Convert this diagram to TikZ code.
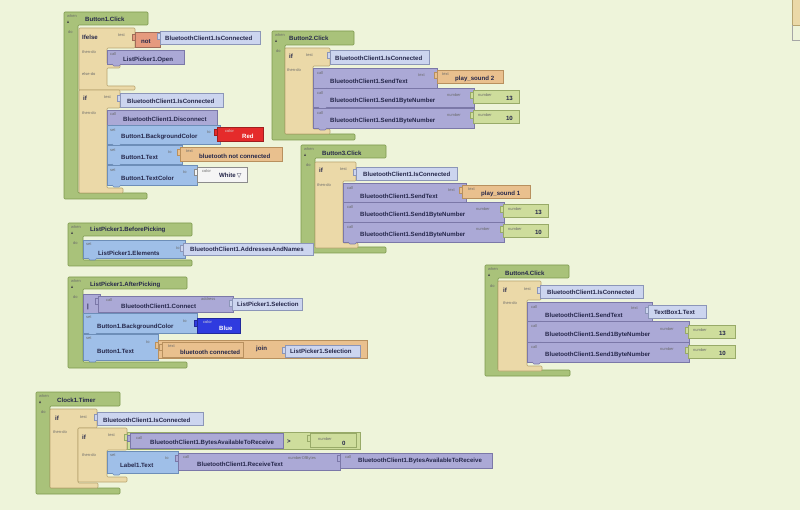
\documentclass[tikz,border=0pt]{standalone}
\usepackage{fontspec}
\setmainfont{Liberation Sans}
\newfontfamily\symfont{DejaVu Sans}
\definecolor{bg}{HTML}{EEF4DA}
\definecolor{evfill}{HTML}{A9C27A}
\definecolor{evline}{HTML}{7E9A4E}
\definecolor{ctfill}{HTML}{EBD9A8}
\definecolor{ctline}{HTML}{B8A570}
\definecolor{cafill}{HTML}{ABA9D6}
\definecolor{caline}{HTML}{7B78A8}
\definecolor{gefill}{HTML}{CCD5EF}
\definecolor{geline}{HTML}{8C96B8}
\definecolor{sefill}{HTML}{9FBFE8}
\definecolor{seline}{HTML}{6D8EB8}
\definecolor{txfill}{HTML}{E9C08E}
\definecolor{txline}{HTML}{B8905E}
\definecolor{nufill}{HTML}{CEDD9C}
\definecolor{nuline}{HTML}{98AA68}
\definecolor{notfill}{HTML}{E59A7E}
\definecolor{redfill}{HTML}{E52B2B}
\definecolor{bluefill}{HTML}{2F3BDF}
\definecolor{txt}{HTML}{25274A}
\definecolor{tinyc}{HTML}{6A6A6A}
\tikzset{
  evt/.style={fill=evfill,draw=evline,line width=0.6pt,rounded corners=1pt},
  ctl/.style={fill=ctfill,draw=ctline,line width=0.6pt,rounded corners=1pt},
  callb/.style={fill=cafill,draw=caline,line width=0.6pt},
  getb/.style={fill=gefill,draw=geline,line width=0.6pt},
  setb/.style={fill=sefill,draw=seline,line width=0.6pt},
  textb/.style={fill=txfill,draw=txline,line width=0.6pt},
  numb/.style={fill=nufill,draw=nuline,line width=0.6pt},
  notb/.style={fill=notfill,draw=notfill!70!black,line width=0.6pt},
  redb/.style={fill=redfill,draw=redfill!70!black,line width=0.6pt},
  blueb/.style={fill=bluefill,draw=bluefill!70!black,line width=0.6pt},
  whiteb/.style={fill=white!96!black,draw=black!45,line width=0.6pt},
  lbl/.style={anchor=west,inner sep=0pt,font=\fontsize{6.1}{7}\selectfont\bfseries,text=txt},
  wlbl/.style={lbl,text=white},
  tiny/.style={anchor=west,inner sep=0pt,font=\fontsize{4}{4.5}\selectfont,text=tinyc},
  wtiny/.style={tiny,text=white!85!black}
}
% value block with plug on the left
\newcommand\val[5]{\filldraw[#5] (#1,#2) rectangle (#3,#4);
  \filldraw[#5] (#1,{#2+2}) -- ({#1-3},{#2+2}) -- ({#1-3},{#2+8}) -- (#1,{#2+8});}
% statement block with tab below
\newcommand\stm[5]{\filldraw[#5] (#1,#2) rectangle (#3,#4);
  \filldraw[#5] ({#1+5},#4) -- ({#1+7},{#4+2}) -- ({#1+12},{#4+2}) -- ({#1+14},#4);}
% event block
\newcommand\evshape[7]{\filldraw[evt] (#1,#2) -- (#3,#2) -- (#3,#4) -- (#5,#4) -- (#5,{#6-6}) -- (#7,{#6-6}) -- (#7,#6) -- (#1,#6) -- cycle;
  \fill[black!70] ({#1+3},{#2+11}) -- ({#1+5},{#2+11}) -- ({#1+4},{#2+8.5}) -- cycle;}
% if block
\newcommand\ifshape[7]{\filldraw[ctl] (#1,#2) -- (#3,#2) -- (#3,#4) -- (#5,#4) -- (#5,{#6-5}) -- (#7,{#6-5}) -- (#7,#6) -- (#1,#6) -- cycle;}
\newcommand\lab[4]{\node[lbl] (#1) at (#2,#3) {#4};}
\newcommand\tin[4]{\node[tiny] (#1) at (#2,#3) {#4};}
\begin{document}
\begin{tikzpicture}[x=1pt,y=-1pt]
\fill[bg] (0,0) rectangle (800,510);
\useasboundingbox (0,0) rectangle (800,510);

% partial block at right edge
\filldraw[ctl,rounded corners=0pt] (792,-2) rectangle (802,25);
\draw[black!35,line width=0.6pt] (792,25) -- (792,40) -- (802,40);

% ================= Button1.Click
\evshape{64}{12}{148}{25}{78}{199}{147}
\tin{b1w}{67}{16}{when}
\lab{b1n}{85}{19}{Button1.Click}
\tin{b1d}{68}{32}{do}
% ifelse
\filldraw[ctl] (79,28) -- (135,28) -- (135,48) -- (107,48) -- (107,64) -- (120,64) -- (120,68) -- (107,68) -- (107,86) -- (135,86) -- (135,90) -- (79,90) -- cycle;
\lab{b1ie}{82}{37}{Ifelse}
\tin{b1it}{118}{35}{test}
\tin{b1itd}{82}{52}{then-do}
\tin{b1ied}{82}{74}{else-do}
\val{135}{32}{160}{47}{notb}
\lab{b1not}{141}{42}{not}
\val{160}{31}{260}{44}{getb}
\lab{b1g1}{165}{38}{BluetoothClient1.IsConnected}
\stm{107}{50}{184}{64}{callb}
\tin{b1c1}{110}{54}{call}
\lab{b1o}{123}{59.5}{ListPicker1.Open}
% if
\ifshape{79}{90}{120}{108}{107}{193}{123}
\lab{b1if}{83}{98}{if}
\tin{b1ift}{104}{97}{test}
\tin{b1iftd}{82}{113}{then-do}
\val{120}{93}{223}{107}{getb}
\lab{b1g2}{127}{101}{BluetoothClient1.IsConnected}
\stm{107}{110}{217}{125}{callb}
\tin{b1c2}{110}{114}{call}
\lab{b1dis}{123}{119}{BluetoothClient1.Disconnect}
\stm{107}{125}{220}{144}{setb}
\tin{b1s1}{110}{130}{set}
\lab{b1bg}{121}{137}{Button1.BackgroundColor}
\tin{b1to1}{207}{132}{to}
\val{217}{127}{263}{141}{redb}
\node[wtiny] (b1col1) at (225,131) {color};
\node[wlbl] (b1red) at (242,136) {Red};
\stm{107}{145}{182}{164}{setb}
\tin{b1s2}{110}{150}{set}
\lab{b1bt}{121}{157}{Button1.Text}
\tin{b1to2}{168}{152}{to}
\val{180}{147}{282}{161}{textb}
\tin{b1tx}{186}{151}{text}
\lab{b1nc}{199}{156}{bluetooth not connected}
\stm{107}{165}{197}{185}{setb}
\tin{b1s3}{110}{170}{set}
\lab{b1tc}{121}{178}{Button1.TextColor}
\tin{b1to3}{183}{172}{to}
\val{197}{167}{247}{182}{whiteb}
\tin{b1col2}{202}{171}{color}
\node[lbl] (b1wh) at (219,176) {White\,{\symfont\fontsize{6}{7}\selectfont ▽}};

% ================= Button2.Click
\evshape{272}{31}{354}{45}{285}{140}{355}
\tin{b2w}{275}{35}{when}
\lab{b2n}{289}{38}{Button2.Click}
\tin{b2d}{276}{51}{do}
\ifshape{285}{48}{330}{66}{313}{134}{330}
\lab{b2if}{289}{56}{if}
\tin{b2t}{306}{55}{test}
\tin{b2td}{287}{70}{then-do}
\val{330}{50}{429}{64}{getb}
\lab{b2g}{335}{58}{BluetoothClient1.IsConnected}
\stm{313}{68}{437}{88}{callb}
\tin{b2c1}{317}{73}{call}
\lab{b2st}{330}{81}{BluetoothClient1.SendText}
\tin{b2tt}{418}{75}{text}
\val{437}{70}{503}{83}{textb}
\tin{b2tx}{442}{74}{text}
\lab{b2ps}{455}{79}{play\_sound 2}
\stm{313}{88}{474}{107}{callb}
\tin{b2c2}{317}{93}{call}
\lab{b2sn1}{330}{101}{BluetoothClient1.Send1ByteNumber}
\tin{b2nt1}{447}{95}{number}
\val{473}{90}{519}{103}{numb}
\tin{b2nl1}{478}{95}{number}
\node[lbl,anchor=east] (b2v1) at (513,98) {13};
\stm{313}{108}{474}{128}{callb}
\tin{b2c3}{317}{113}{call}
\lab{b2sn2}{330}{121}{BluetoothClient1.Send1ByteNumber}
\tin{b2nt2}{447}{115}{number}
\val{473}{110}{519}{123}{numb}
\tin{b2nl2}{478}{115}{number}
\node[lbl,anchor=east] (b2v2) at (513,118) {10};

% ================= Button3.Click
\evshape{301}{145}{386}{158}{315}{253}{386}
\tin{b3w}{304}{149}{when}
\lab{b3n}{322}{153}{Button3.Click}
\tin{b3d}{306}{165}{do}
\ifshape{315}{162}{356}{181}{343}{248}{358}
\lab{b3if}{319}{170}{if}
\tin{b3t}{340}{169}{test}
\tin{b3td}{317}{185}{then-do}
\val{356}{167}{457}{180}{getb}
\lab{b3g}{363}{174}{BluetoothClient1.IsConnected}
\stm{343}{183}{466}{202}{callb}
\tin{b3c1}{347}{188}{call}
\lab{b3st}{360}{196}{BluetoothClient1.SendText}
\tin{b3tt}{448}{190}{text}
\val{462}{185}{530}{198}{textb}
\tin{b3tx}{468}{189}{text}
\lab{b3ps}{481}{194}{play\_sound 1}
\stm{343}{202}{504}{222}{callb}
\tin{b3c2}{347}{207}{call}
\lab{b3sn1}{360}{215}{BluetoothClient1.Send1ByteNumber}
\tin{b3nt1}{476}{209}{number}
\val{503}{204}{548}{217}{numb}
\tin{b3nl1}{508}{209}{number}
\node[lbl,anchor=east] (b3v1) at (542,212) {13};
\stm{343}{222}{504}{242}{callb}
\tin{b3c3}{347}{227}{call}
\lab{b3sn2}{360}{235}{BluetoothClient1.Send1ByteNumber}
\tin{b3nt2}{476}{229}{number}
\val{503}{224}{548}{237}{numb}
\tin{b3nl2}{508}{229}{number}
\node[lbl,anchor=east] (b3v2) at (542,232) {10};

% ================= ListPicker1.BeforePicking
\evshape{68}{223}{192}{236}{83}{266}{192}
\tin{lbw}{71}{227}{when}
\lab{lbn}{90}{230}{ListPicker1.BeforePicking}
\tin{lbd}{73}{243}{do}
\stm{83}{240}{185}{258}{setb}
\tin{lbs}{86}{244}{set}
\lab{lbe}{98}{253}{ListPicker1.Elements}
\tin{lbto}{176}{248}{to}
\val{183}{243}{313}{255}{getb}
\lab{lbg}{190}{249}{BluetoothClient1.AddressesAndNames}

% ================= ListPicker1.AfterPicking
\evshape{68}{277}{187}{289}{83}{368}{187}
\tin{law}{71}{281}{when}
\lab{lan}{90}{285}{ListPicker1.AfterPicking}
\tin{lad}{73}{297}{do}
\stm{83}{294}{100}{313}{callb}
\lab{labar}{87}{307}{|}
\val{98}{296}{233}{312}{callb}
\tin{lac}{106}{300}{call}
\lab{lacn}{121}{306}{BluetoothClient1.Connect}
\tin{laad}{201}{299}{address}
\val{232}{298}{302}{310}{getb}
\lab{las1}{237}{304}{ListPicker1.Selection}
\stm{83}{313}{197}{333}{setb}
\tin{las}{86}{317}{set}
\lab{labg}{97}{327}{Button1.BackgroundColor}
\tin{lato1}{183}{321}{to}
\val{197}{318}{240}{333}{blueb}
\node[wtiny] (lacol) at (203,322) {color};
\node[wlbl] (lablue) at (219,328) {Blue};
\stm{83}{334}{158}{360}{setb}
\tin{las2}{86}{338}{set}
\lab{labt}{97}{351}{Button1.Text}
\tin{lato2}{146}{342}{to}
\val{158}{340}{367}{358}{textb}
\val{162}{342}{243}{357}{textb}
\tin{latx}{168}{346}{text}
\lab{lacon}{180}{352}{bluetooth connected}
\lab{lajoin}{256}{349}{join}
\val{285}{345}{360}{357}{getb}
\lab{las2g}{290}{351}{ListPicker1.Selection}

% ================= Button4.Click
\evshape{485}{265}{569}{278}{498}{376}{570}
\tin{b4w}{488}{269}{when}
\lab{b4n}{505}{273}{Button4.Click}
\tin{b4d}{490}{286}{do}
\ifshape{498}{281}{541}{300}{527}{371}{542}
\lab{b4if}{503}{290}{if}
\tin{b4t}{524}{289}{test}
\tin{b4td}{503}{303}{then-do}
\val{540}{285}{643}{298}{getb}
\lab{b4g}{547}{292}{BluetoothClient1.IsConnected}
\stm{527}{302}{652}{321}{callb}
\tin{b4c1}{531}{307}{call}
\lab{b4st}{545}{315}{BluetoothClient1.SendText}
\tin{b4tt}{631}{308}{text}
\val{648}{305}{706}{318}{getb}
\lab{b4tb}{654}{312}{TextBox1.Text}
\stm{527}{321}{689}{342}{callb}
\tin{b4c2}{531}{326}{call}
\lab{b4sn1}{545}{335}{BluetoothClient1.Send1ByteNumber}
\tin{b4nt1}{660}{329}{number}
\val{688}{325}{735}{338}{numb}
\tin{b4nl1}{693}{330}{number}
\node[lbl,anchor=east] (b4v1) at (726,333) {13};
\stm{527}{342}{689}{362}{callb}
\tin{b4c3}{531}{347}{call}
\lab{b4sn2}{545}{355}{BluetoothClient1.Send1ByteNumber}
\tin{b4nt2}{660}{349}{number}
\val{688}{345}{735}{358}{numb}
\tin{b4nl2}{693}{350}{number}
\node[lbl,anchor=east] (b4v2) at (726,353) {10};

% ================= Clock1.Timer
\evshape{36}{392}{120}{406}{50}{494}{120}
\tin{ctw}{39}{396}{when}
\lab{ctn}{57}{400}{Clock1.Timer}
\tin{ctd}{41}{412}{do}
\ifshape{50}{409}{97}{428}{78}{488}{98}
\lab{ctif}{55}{418}{if}
\tin{ctt}{80}{417}{test}
\tin{cttd}{53}{432}{then-do}
\val{97}{412}{203}{425}{getb}
\lab{ctg}{103}{420}{BluetoothClient1.IsConnected}
\ifshape{78}{428}{127}{450}{107}{482}{127}
\lab{ctif2}{82}{437}{if}
\tin{ctt2}{108}{435}{test}
\tin{cttd2}{82}{455}{then-do}
\val{127}{432}{360}{449}{numb}
\lab{ctgt}{287}{442}{>}
\val{130}{433}{283}{448}{callb}
\tin{ctc1}{136}{438}{call}
\lab{ctba1}{150}{443}{BluetoothClient1.BytesAvailableToReceive}
\val{310}{433}{356}{447}{numb}
\tin{ctnl}{318}{439}{number}
\lab{ct0}{342}{443}{0}
\stm{107}{451}{178}{473}{setb}
\tin{cts}{110}{455}{set}
\lab{ctlt}{120}{465}{Label1.Text}
\tin{ctto}{165}{458}{to}
\val{178}{453}{340}{470}{callb}
\tin{ctc2}{183}{457}{call}
\lab{ctrt}{197}{464}{BluetoothClient1.ReceiveText}
\tin{ctnb}{288}{458}{numberOfBytes}
\val{340}{453}{492}{468}{callb}
\tin{ctc3}{345}{457}{call}
\lab{ctba2}{358}{461}{BluetoothClient1.BytesAvailableToReceive}
\end{tikzpicture}
\end{document}
